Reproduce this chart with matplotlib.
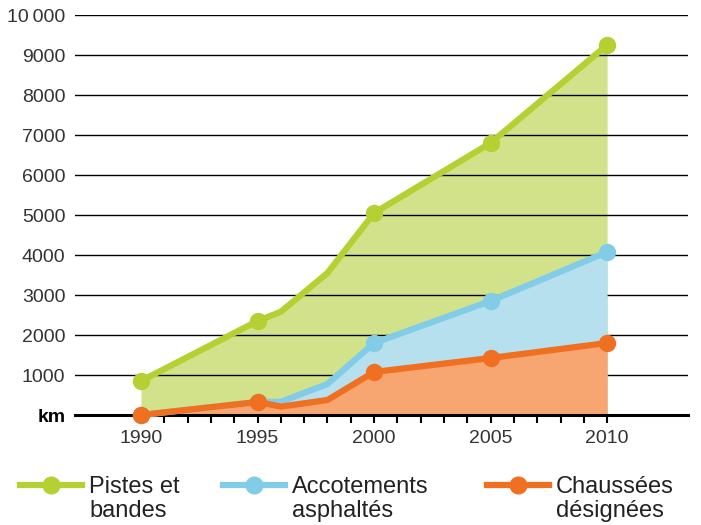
import matplotlib
matplotlib.use("Agg")
import matplotlib.pyplot as plt
from matplotlib.lines import Line2D
from matplotlib.text import Annotation

plt.rcParams['font.family'] = ['Liberation Sans', 'DejaVu Sans']

years = [1990, 1995, 1996, 1998, 2000, 2005, 2010]
pistes = [850, 2350, 2580, 3550, 5050, 6800, 9250]
accotements = [0, 325, 330, 775, 1800, 2850, 4075]
chaussees = [0, 325, 210, 375, 1075, 1425, 1800]
marker_years = [1990, 1995, 2000, 2005, 2010]

yticks = [0, 1000, 2000, 3000, 4000, 5000, 6000, 7000, 8000, 9000, 10000]
ytick_labels = ['km', '1000', '2000', '3000', '4000', '5000', '6000', '7000', '8000', '9000', '10\u2009000']
xticks_major = [1990, 1995, 2000, 2005, 2010]
xticks_minor = list(range(1990, 2011))

labels = ['Pistes et\nbandes', 'Accotements\nasphaltés', 'Chaussées\ndésignées']
line_colors = ['#b4d033', '#82cce8', '#f07022']
fill_colors = ['#d2e28b', '#b7e0ef', '#f7a672']

fig = plt.figure(figsize=(7.01, 5.25), dpi=100)
ax = fig.add_axes([75/701, 1 - 415/525, (688-75)/701, 400/525])
ax.set_axisbelow(True)  # grid at zorder 0.5

series = [pistes, accotements, chaussees]
fill_z = [0.2, 1.0, 2.0]
for vals, fc, z in zip(series, fill_colors, fill_z):
    ax.fill_between(years, 0, vals, color=fc, lw=0, zorder=z)
for i, (vals, lc) in enumerate(zip(series, line_colors)):
    ax.plot(years, vals, color=lc, lw=4.5, zorder=10 + i, solid_capstyle='round', clip_on=False)
    mv = [vals[years.index(y)] for y in marker_years]
    ax.plot(marker_years, mv, 'o', color=lc, ms=11.5, zorder=10 + i, clip_on=False)

ax.set_xlim(1987.17, 2013.47)
ax.set_ylim(0, 10000)
ax.set_yticks(yticks)
ax.set_yticklabels(ytick_labels)
ax.yaxis.grid(True, color='black', lw=1.0)
ax.tick_params(axis='y', length=0, pad=7, labelsize=14, labelcolor='#333333')
ax.get_yticklabels()[0].set_fontweight('bold')
ax.get_yticklabels()[0].set_color('black')

ax.set_xticks(xticks_major)
ax.set_xticklabels([str(x) for x in xticks_major])
ax.set_xticks(xticks_minor, minor=True)
ax.tick_params(axis='x', which='both', direction='out', length=6, width=1.5, color='black',
               labelsize=14, labelcolor='#333333', pad=5)

for s in ['top', 'right', 'left']:
    ax.spines[s].set_visible(False)
ax.spines['bottom'].set_linewidth(2.2)
ax.spines['bottom'].set_zorder(5)

# legend: one entry per block, handle aligned with first line of label
legend_x = [20, 223, 487]
for lbl, c, x0 in zip(labels, line_colors, legend_x):
    first, second = lbl.split('\n')
    h = Line2D([], [], color=c, lw=4.5, marker='o', ms=12)
    leg = fig.legend([h], [first], loc='upper left', bbox_to_anchor=(x0/701, 1 - 476/525),
                     frameon=False, borderpad=0, borderaxespad=0, fontsize=17,
                     handlelength=2.63, handletextpad=0.3)
    t = leg.get_texts()[0]
    t.set_color('#222222')
    ann = Annotation(second, xy=(0, 0), xycoords=t, xytext=(0, -2), textcoords='offset pixels',
                     ha='left', va='top', fontsize=17, color='#222222', annotation_clip=False)
    ann.set_zorder(10)
    fig.add_artist(ann)

fig.savefig('out.png', dpi=100)
